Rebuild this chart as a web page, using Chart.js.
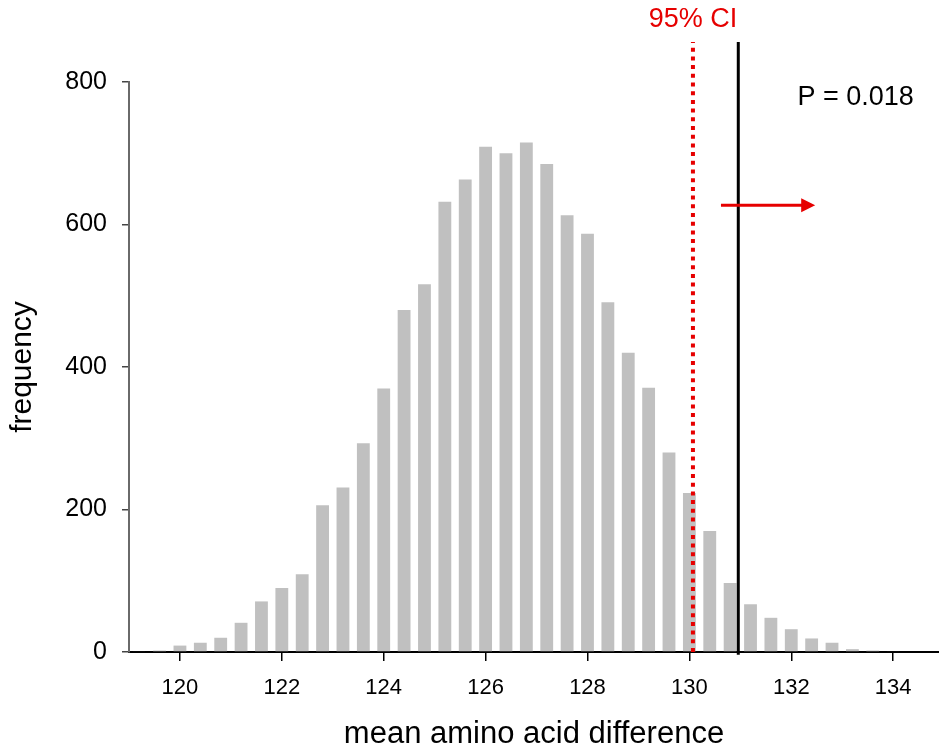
<!DOCTYPE html>
<html>
<head>
<meta charset="utf-8">
<script src="https://cdn.jsdelivr.net/npm/chart.js@4.4.1/dist/chart.umd.min.js"></script>
<style>
  html, body { margin: 0; padding: 0; background: #fff; overflow: hidden; }
  canvas { display: block; }
</style>
</head>
<body>
<canvas id="hist" width="939" height="750"></canvas>
<script>
// histogram bins (bar centres) and their frequencies
const bins = [119.2, 119.6, 120.0, 120.4, 120.8, 121.2, 121.6, 122.0, 122.4, 122.8,
  123.2, 123.6, 124.0, 124.4, 124.8, 125.2, 125.6, 126.0, 126.4, 126.8,
  127.2, 127.6, 128.0, 128.4, 128.8, 129.2, 129.6, 130.0, 130.4, 130.8,
  131.2, 131.6, 132.0, 132.4, 132.8, 133.2, 133.6, 134.0];
const counts = [1, 2, 9, 13, 20, 41, 71, 90, 109, 206,
  231, 293, 370, 480, 516, 632, 663, 709, 700, 715,
  685, 613, 587, 491, 420, 371, 280, 223, 170, 97,
  67, 48, 32, 19, 13, 4, 2, 1];

const xTicks = [120, 122, 124, 126, 128, 130, 132, 134];
const yTicks = [0, 200, 400, 600, 800];

// reference lines
const ciValue = 130.07;        // 95% CI cut-off
const observedValue = 130.96;  // observed mean
const lineTop = 856;
const arrowFrom = 130.62;
const arrowTo = 132.47;
const arrowLevel = 627;

const ciLabel = "95% CI";
const pLabel = "P = 0.018";

const red = "#e60000";

Chart.defaults.font.family = "'Liberation Sans', Arial, sans-serif";
Chart.defaults.color = "#000";

const annotations = {
  id: "annotations",
  afterDatasetsDraw(chart) {
    const { ctx, scales: { x, y } } = chart;
    ctx.save();

    // arrow pointing to the right tail
    const x0 = x.getPixelForValue(arrowFrom);
    const x1 = x.getPixelForValue(arrowTo);
    const ay = y.getPixelForValue(arrowLevel);
    ctx.strokeStyle = red;
    ctx.fillStyle = red;
    ctx.lineWidth = 3;
    ctx.beginPath();
    ctx.moveTo(x0, ay);
    ctx.lineTo(x1 - 10, ay);
    ctx.stroke();
    ctx.beginPath();
    ctx.moveTo(x1, ay);
    ctx.lineTo(x1 - 14, ay - 7);
    ctx.lineTo(x1 - 14, ay + 7);
    ctx.closePath();
    ctx.fill();

    // texts
    ctx.textBaseline = "middle";
    ctx.font = "27px 'Liberation Sans', Arial, sans-serif";
    ctx.fillStyle = red;
    ctx.textAlign = "center";
    ctx.fillText(ciLabel, x.getPixelForValue(ciValue), y.getPixelForValue(887));
    ctx.fillStyle = "#000";
    ctx.textAlign = "left";
    ctx.fillText(pLabel, x.getPixelForValue(132.12), y.getPixelForValue(778));
    ctx.restore();
  }
};

new Chart(document.getElementById("hist"), {
  type: "bar",
  data: {
    datasets: [
      {
        type: "line",
        data: [{ x: ciValue, y: 0 }, { x: ciValue, y: lineTop }],
        borderColor: red,
        borderWidth: 4,
        borderDash: [4, 4.7],
        pointRadius: 0,
        clip: false,
        order: 0
      },
      {
        type: "line",
        data: [{ x: observedValue, y: -4 }, { x: observedValue, y: lineTop }],
        borderColor: "#000",
        borderWidth: 3,
        pointRadius: 0,
        clip: false,
        order: 0
      },
      {
        type: "bar",
        data: bins.map((b, i) => ({ x: b, y: counts[i] })),
        backgroundColor: "#c0c0c0",
        borderWidth: 0,
        categoryPercentage: 1,
        barPercentage: 0.63,
        order: 1
      }
    ]
  },
  options: {
    responsive: false,
    animation: false,
    layout: { padding: { top: 82, right: 0, left: 0, bottom: 0 } },
    plugins: { legend: { display: false }, tooltip: { enabled: false } },
    scales: {
      x: {
        type: "linear",
        min: 119,
        max: 134.9,
        offset: false,
        afterBuildTicks: (s) => { s.ticks = xTicks.map(v => ({ value: v })); },
        afterFit: (s) => { s.height = 98; },
        border: { color: "#000", width: 2 },
        grid: { offset: false, drawOnChartArea: false, drawTicks: true, tickLength: 9, color: "#000", lineWidth: 1.5 },
        ticks: { font: { size: 22 }, padding: 14, color: "#000" },
        title: {
          display: true,
          text: "mean amino acid difference",
          font: { size: 31, lineHeight: 1 },
          padding: { top: 0, bottom: 0 },
          color: "#000"
        }
      },
      y: {
        min: 0,
        max: 800,
        afterBuildTicks: (s) => { s.ticks = yTicks.map(v => ({ value: v })); },
        afterFit: (s) => { s.width = 129; },
        border: { color: "#6a6a6a", width: 2 },
        grid: { drawOnChartArea: false, drawTicks: true, tickLength: 7, color: "#444", lineWidth: 1.5 },
        ticks: { font: { size: 25 }, padding: 15, color: "#000" },
        title: {
          display: true,
          text: "frequency",
          font: { size: 30 },
          padding: { top: 5, bottom: 0 },
          color: "#000"
        }
      }
    }
  },
  plugins: [annotations]
});
</script>
</body>
</html>
